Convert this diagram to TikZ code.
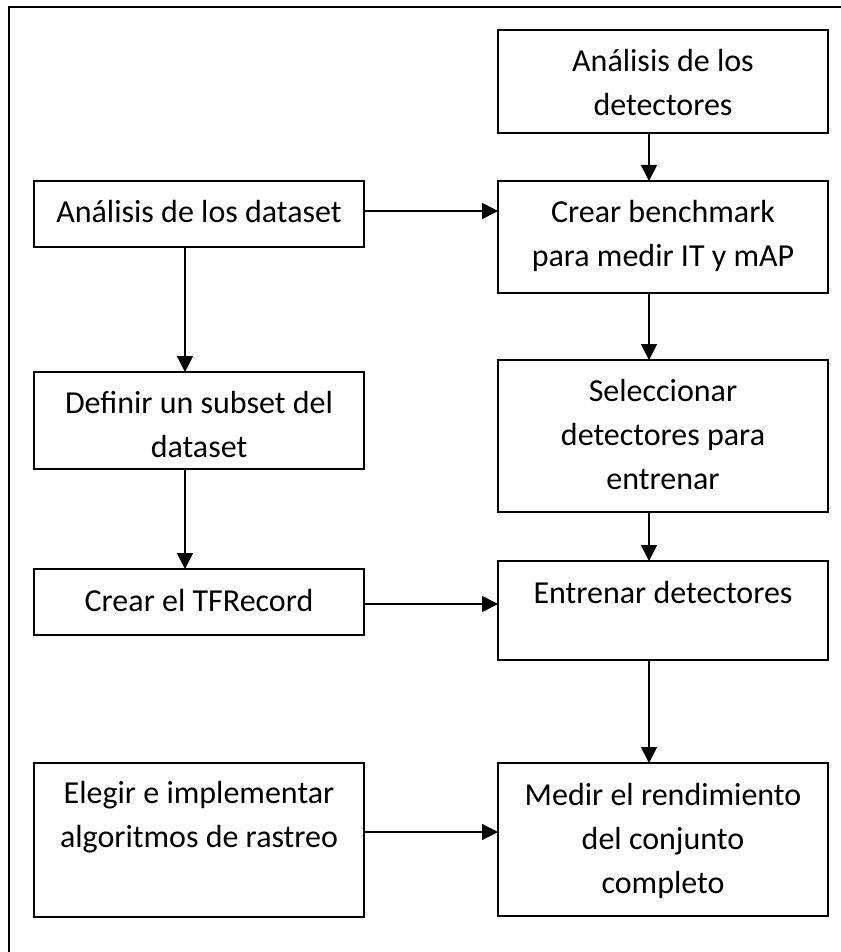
\documentclass[tikz,border=0pt]{standalone}
\usepackage{fontspec}
\setmainfont{Carlito}
\usetikzlibrary{arrows.meta}
\tikzset{
  box/.style={draw=black, line width=1.8pt, rectangle, inner sep=0pt, outer sep=0pt, minimum width=330pt},
  txt/.style={inner sep=0pt, outer sep=0pt, anchor=base, font=\fontsize{32}{44}\selectfont},
  arr/.style={line width=1.8pt, -{Triangle[length=16pt,width=16pt]}},
  frame/.style={line width=1.6pt}
}
\newcommand{\bxt}[1]{\parbox[t]{320pt}{\centering #1}}
\begin{document}
\begin{tikzpicture}[x=1pt,y=-1pt]
\useasboundingbox (0,0) rectangle (840,952);
\fill[white] (0,0) rectangle (840,952);
% outer frame (only top and left edges visible)
\draw[frame] (9,970) -- (9,7) -- (860,7);

% boxes
\node[box, minimum height=103pt] (detA) at (663,81.5) {};
\node[box, minimum height=66pt]  (data) at (199,214) {};
\node[box, minimum height=112pt] (bench) at (663,237) {};
\node[box, minimum height=97pt]  (defi) at (199,420.5) {};
\node[box, minimum height=152pt] (selec) at (663,436) {};
\node[box, minimum height=66pt]  (tfrec) at (199,602) {};
\node[box, minimum height=99pt]  (entr) at (663,610.5) {};
\node[box, minimum height=154pt] (eleg) at (199,840) {};
\node[box, minimum height=153pt] (medir) at (663,839.5) {};

% texts
\node[txt] (tdetA) at (663,72) {\bxt{Análisis de los\\detectores}};
\node[txt] (tdata) at (199,222) {\bxt{Análisis de los dataset}};
\node[txt] (tbench) at (663,222) {\bxt{Crear benchmark\\para medir IT y mAP}};
\node[txt] (tdefi) at (199,413) {\bxt{Definir un subset del\\dataset}};
\node[txt] (tselec) at (663,401) {\bxt{Seleccionar\\detectores para\\entrenar}};
\node[txt] (ttfrec) at (199,611) {\bxt{Crear el TFRecord}};
\node[txt] (tentr) at (663,603) {\bxt{Entrenar detectores}};
\node[txt] (teleg) at (199,803) {\bxt{Elegir e implementar\\algoritmos de rastreo}};
\node[txt] (tmedir) at (663,805) {\bxt{Medir el rendimiento\\del conjunto\\completo}};

% connector guide coordinates
\coordinate (colL) at (185,0);
\coordinate (colR) at (649,0);
\coordinate (rowA) at (0,211);
\coordinate (rowB) at (0,604);
\coordinate (rowC) at (0,832);

% vertical arrows
\draw[arr] (detA.south -| colR) -- (bench.north -| colR);
\draw[arr] (bench.south -| colR) -- (selec.north -| colR);
\draw[arr] (selec.south -| colR) -- (entr.north -| colR);
\draw[arr] (entr.south -| colR) -- (medir.north -| colR);
\draw[arr] (data.south -| colL) -- (defi.north -| colL);
\draw[arr] (defi.south -| colL) -- (tfrec.north -| colL);

% horizontal arrows
\draw[arr] (data.east |- rowA) -- (bench.west |- rowA);
\draw[arr] (tfrec.east |- rowB) -- (entr.west |- rowB);
\draw[arr] (eleg.east |- rowC) -- (medir.west |- rowC);
\end{tikzpicture}
\end{document}
